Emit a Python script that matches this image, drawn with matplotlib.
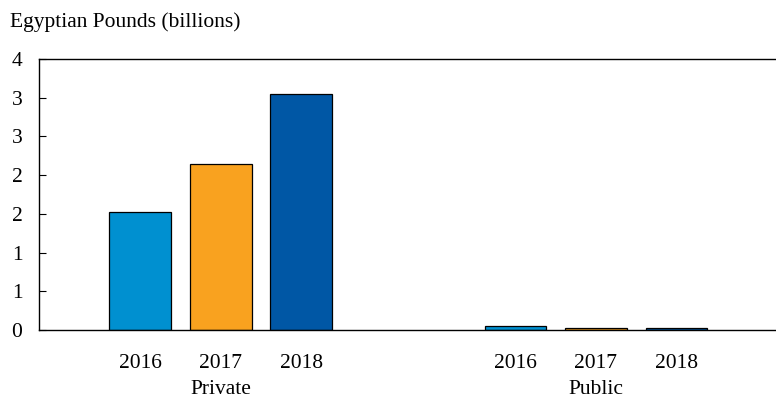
import math
import matplotlib.pyplot as plt
from matplotlib.transforms import blended_transform_factory

plt.rcParams['font.family'] = ['Liberation Serif', 'DejaVu Serif']

categories = ['Private', 'Public']
years = ['2016', '2017', '2018']
values = {
    '2016': [1.52, 0.05],
    '2017': [2.14, 0.02],
    '2018': [3.05, 0.03],
}
colors = {'2016': '#0090d0', '2017': '#f9a21f', '2018': '#0057a5'}
yticks = [0, 0.5, 1, 1.5, 2, 2.5, 3, 3.5]

fig = plt.figure(figsize=(7.76, 3.99), dpi=100)
ax = fig.add_axes([39 / 776, 1 - 330 / 399, 1 - 39 / 776, 271 / 399])

offset = 0.2147
width = 0.165
tick_pos, tick_lab = [], []
for i, yr in enumerate(years):
    xs = [c + (i - 1) * offset for c in range(len(categories))]
    ax.bar(xs, values[yr], width=width, color=colors[yr],
           edgecolor='black', linewidth=0.9, zorder=2)
    tick_pos += xs
    tick_lab += [yr] * len(xs)

fs = 15.5
ax.set_xlim(-0.485, 1.48)
ax.set_ylim(0, 3.5)
ax.set_yticks(yticks)
ax.set_yticklabels([str(int(math.floor(v + 0.5))) for v in yticks], fontsize=fs)
ax.set_xticks(tick_pos)
ax.set_xticklabels(tick_lab, fontsize=fs)
ax.tick_params(axis='x', length=0, pad=17)
ax.tick_params(axis='y', direction='in', length=5, pad=12)
ax.spines['right'].set_visible(False)
for s in ['left', 'top', 'bottom']:
    ax.spines[s].set_linewidth(1)

trans = blended_transform_factory(ax.transData, fig.transFigure)
for c, name in enumerate(categories):
    ax.text(c, 0.5 / 399, name, transform=trans, ha='center', va='bottom',
            fontsize=fs)

fig.text(10 / 776, 1 - 22 / 399, 'Egyptian Pounds (billions)', ha='left',
         va='center', fontsize=fs)

fig.savefig('out.png', dpi=100)
